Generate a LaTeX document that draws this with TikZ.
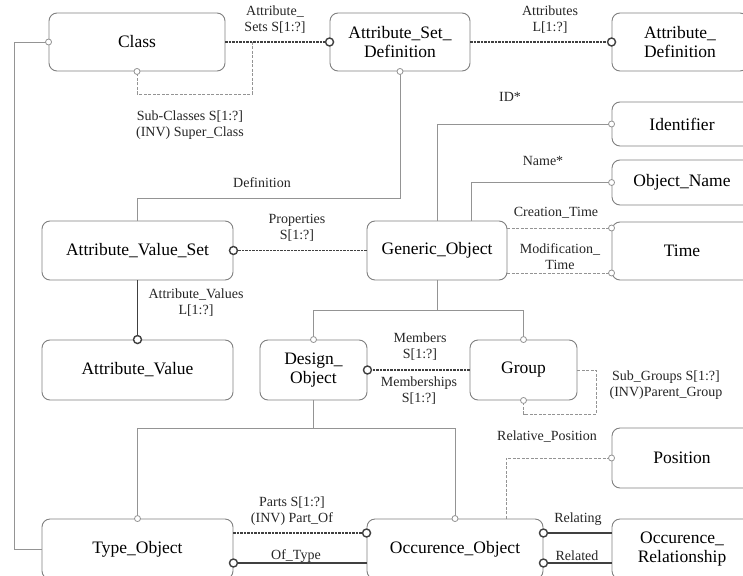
\documentclass[tikz,border=0pt]{standalone}
\usepackage{fontspec}
\setmainfont{Liberation Serif}
\definecolor{boxgray}{gray}{0.5}
\definecolor{linegray}{gray}{0.58}
\definecolor{darkline}{gray}{0.25}
\begin{document}
\begin{tikzpicture}[x=1pt,y=-1pt,
  entity/.style={draw=boxgray, line width=0.9pt, rounded corners=8pt,
    font=\fontsize{17.5}{19}\selectfont, align=center, inner sep=0pt},
  lbl/.style={font=\fontsize{14}{16}\selectfont, align=center, text=black!85, inner sep=0pt},
  lite/.style={draw=linegray, line width=0.8pt},
  litedash/.style={draw=linegray, line width=0.8pt, dash pattern=on 3pt off 1.5pt},
  reln/.style={draw=darkline, line width=1.4pt},
  relndash/.style={draw=darkline, line width=1.4pt, dash pattern=on 2.5pt off 1pt},
  bigring/.style={circle, solid, draw=darkline, line width=1.4pt, fill=white, minimum size=8pt, inner sep=0pt},
  smallring/.style={circle, solid, draw=linegray, line width=0.8pt, fill=white, minimum size=6pt, inner sep=0pt},
]
\useasboundingbox (0,0) rectangle (743,575);
\fill[white] (0,0) rectangle (743,575);
\clip (0,0) rectangle (743,575);

% entities
\node[entity, minimum width=176pt, minimum height=58pt] (class) at (137,42) {Class};
\node[entity, minimum width=140pt, minimum height=58pt] (asd) at (400,42) {Attribute\_Set\_\\Definition};
\node[entity, minimum width=136pt, minimum height=58pt] (ad) at (680,42) {Attribute\_\\Definition};
\node[entity, minimum width=140pt, minimum height=44pt] (ident) at (682,124) {Identifier};
\node[entity, minimum width=140pt, minimum height=45pt] (oname) at (682,182.5) {Object\_Name};
\node[entity, minimum width=140pt, minimum height=58pt] (time) at (682,251) {Time};
\node[entity, minimum width=140pt, minimum height=59pt] (go) at (437,250.5) {Generic\_Object};
\node[entity, minimum width=191pt, minimum height=59pt] (avs) at (137.5,250.5) {Attribute\_Value\_Set};
\node[entity, minimum width=191pt, minimum height=60pt] (av) at (137.5,370) {Attribute\_Value};
\node[entity, minimum width=107pt, minimum height=60pt] (do) at (313.5,370) {Design\_\\Object};
\node[entity, minimum width=107pt, minimum height=60pt] (group) at (523.5,370) {Group};
\node[entity, minimum width=140pt, minimum height=60pt] (pos) at (682,458) {Position};
\node[entity, minimum width=191pt, minimum height=60pt] (to) at (137.5,549) {Type\_Object};
\node[entity, minimum width=176pt, minimum height=60pt] (oo) at (455,549) {Occurence\_Object};
\node[entity, minimum width=140pt, minimum height=60pt] (orel) at (682,549) {Occurence\_\\Relationship};

% bend points
\coordinate (lc) at (14,0);
\coordinate (sc) at (252,42);
\coordinate (scb) at (252,94);
\coordinate (defbend) at (400,198);
\coordinate (idbend) at (437,124);
\coordinate (namebend) at (471,182.5);
\coordinate (ct) at (0,228);
\coordinate (mt) at (0,273);
\coordinate (gotree) at (437,310);
\coordinate (sgc) at (596,414);
\coordinate (dotree) at (313.5,428);
\coordinate (rpc) at (506,458);
\coordinate (py) at (0,533);
\coordinate (oy) at (0,563);

% Class relations
\draw[relndash] (class.east) -- (asd.west) node[bigring]{};
\draw[litedash] (sc) -- (scb) -| (class.south) node[smallring]{};
\draw[lite] (to.west) -- (to.west -| lc) -- (class.west -| lc) -- (class.west) node[smallring]{};
\draw[relndash] (asd.east) -- (ad.west) node[bigring]{};
\draw[lite] (avs.north) |- (defbend) -- (asd.south) node[smallring]{};

% Generic_Object attributes
\draw[lite] (go.north) -- (idbend) -- (ident.west) node[smallring]{};
\draw[lite] (go.north -| namebend) -- (namebend) -- (oname.west) node[smallring]{};
\draw[litedash] (go.east |- ct) -- (time.west |- ct) node[smallring]{};
\draw[litedash] (go.east |- mt) -- (time.west |- mt) node[smallring]{};
\draw[relndash] (go.west) -- (avs.east) node[bigring]{};
\draw[reln] (avs.south) -- (av.north) node[bigring]{};

% Generic_Object subtypes
\draw[lite] (go.south) -- (gotree);
\draw[lite] (do.north |- gotree) -- (group.north |- gotree);
\draw[lite] (do.north |- gotree) -- (do.north) node[smallring]{};
\draw[lite] (group.north |- gotree) -- (group.north) node[smallring]{};
\draw[relndash] (group.west) -- (do.east) node[bigring]{};
\draw[litedash] (group.east) -| (sgc) -| (group.south) node[smallring]{};

% Design_Object subtypes
\draw[lite] (do.south) -- (dotree);
\draw[lite] (to.north |- dotree) -- (oo.north |- dotree);
\draw[lite] (to.north |- dotree) -- (to.north) node[smallring]{};
\draw[lite] (oo.north |- dotree) -- (oo.north) node[smallring]{};
\draw[litedash] (oo.north -| rpc) -- (rpc) -- (pos.west) node[smallring]{};

% bottom row relations
\draw[relndash] (to.east |- py) -- (oo.west |- py) node[bigring]{};
\draw[reln] (oo.west |- oy) -- (to.east |- oy) node[bigring]{};
\draw[reln] (orel.west |- py) -- (oo.east |- py) node[bigring]{};
\draw[reln] (orel.west |- oy) -- (oo.east |- oy) node[bigring]{};

% labels
\node[lbl] (l1) at (275,20) {Attribute\_\\Sets S[1:?]};
\node[lbl] (l2) at (190,125) {Sub-Classes S[1:?]\\(INV) Super\_Class};
\node[lbl] (l3) at (550,20) {Attributes\\L[1:?]};
\node[lbl] (l4) at (262,183) {Definition};
\node[lbl] (l5) at (510,97) {ID*};
\node[lbl] (l6) at (543,161) {Name*};
\node[lbl] (l7) at (556,213) {Creation\_Time};
\node[lbl] (l8) at (560,257) {Modification\_\\Time};
\node[lbl] (l9) at (297,228) {Properties\\S[1:?]};
\node[lbl] (l10) at (196,303) {Attribute\_Values\\L[1:?]};
\node[lbl] (l11) at (420,347) {Members\\S[1:?]};
\node[lbl] (l12) at (419,391) {Memberships\\S[1:?]};
\node[lbl] (l13) at (666,385) {Sub\_Groups S[1:?]\\(INV)Parent\_Group};
\node[lbl] (l14) at (547,437) {Relative\_Position};
\node[lbl] (l15) at (292,511) {Parts S[1:?]\\(INV) Part\_Of};
\node[lbl] (l16) at (296,556) {Of\_Type};
\node[lbl] (l17) at (578,519) {Relating};
\node[lbl] (l18) at (577,556) {Related};
\end{tikzpicture}
\end{document}
